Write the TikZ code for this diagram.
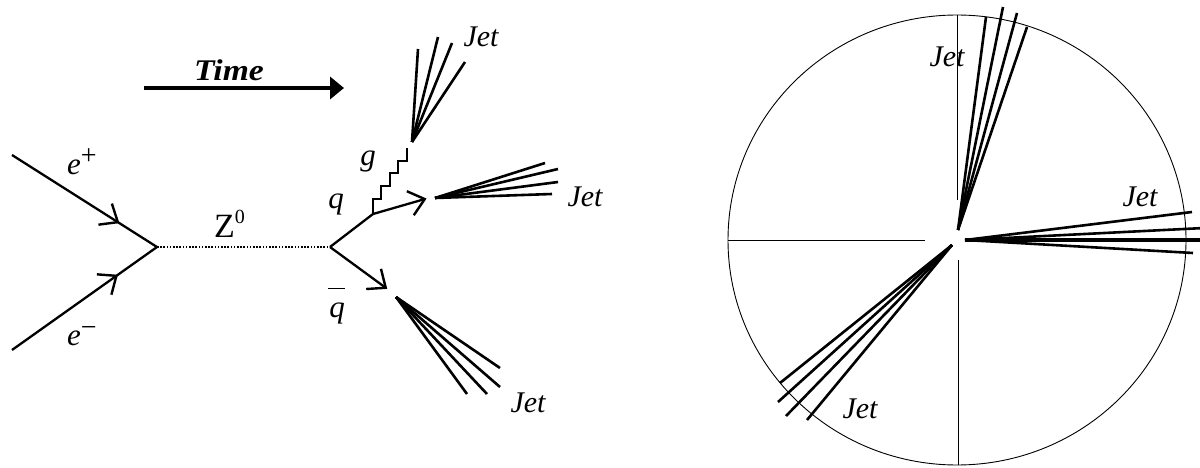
\documentclass[tikz,border=0pt]{standalone}
\usepackage{fontspec}
\setmainfont{Liberation Serif}
\usetikzlibrary{arrows.meta,decorations.markings}
\begin{document}
\begin{tikzpicture}[x=1pt,y=-1pt,
  fermion/.style={line width=2.3pt},
  chev/.style={postaction={decorate},decoration={markings,
     mark=at position #1 with {\draw[line width=2.4pt,line join=miter,line cap=butt] (-15pt,12.5pt) -- (0pt,0pt) -- (-15pt,-12.5pt);}}},
  jetline/.style={line width=2.6pt},
  thinline/.style={line width=0.9pt},
  lbl/.style={inner sep=0pt,font=\fontsize{31}{31}\selectfont\itshape},
  jetlbl/.style={inner sep=0pt,anchor=base,font=\fontsize{30}{30}\selectfont\itshape}]
\useasboundingbox (0,0) rectangle (1200,468);

% ---------- left: Feynman diagram ----------
\coordinate (ep) at (12,155);
\coordinate (em) at (12,350);
\coordinate (v1) at (157,247);
\coordinate (v2) at (330,247);
\coordinate (qv) at (373,214);
\coordinate (qe) at (425,199);
\coordinate (qb) at (386,288);

\draw[fermion,chev=0.73] (ep) -- (v1);
\draw[fermion,chev=0.72] (em) -- (v1);
\draw[line width=2pt,dash pattern=on 1.6pt off 1.6pt] (v1) -- (v2);
\draw[fermion] (v2) -- (qv);
\draw[fermion,chev=0.995] (qv) -- (qe);
\draw[fermion,chev=0.995] (v2) -- (qb);
% gluon
\draw[line width=2pt] (qv) -- ++(0,-15) -- ++(8,0) -- ++(0,-13) -- ++(9,0)
   -- ++(0,-13) -- ++(8,0) -- ++(0,-12) -- ++(9,0) -- ++(0,-13);

% labels
\node[lbl,anchor=base west] (lep) at (67,175) {e\raisebox{10pt}{\fontsize{28}{28}\selectfont\upshape +}};
\node[lbl,anchor=base west] (lem) at (67,345) {e\raisebox{9pt}{\fontsize{28}{28}\selectfont\upshape −}};
\node[inner sep=0pt,anchor=base west] (lz) at (214,237) {\fontsize{34}{34}\selectfont Z\raisebox{14pt}{\fontsize{20}{20}\selectfont 0}};
\node[lbl,anchor=base] (lq) at (336,208) {q};
\node[lbl,anchor=base] (lg) at (368,165) {g};
\node[lbl,anchor=base] (lqb) at (337,317) {\rlap{\kern-1pt\rule[28pt]{17pt}{1.4pt}}q};

% time arrow
\coordinate (t0) at (144,88);
\coordinate (t1) at (344,88);
\draw[line width=3.5pt,-{Triangle[length=14pt,width=22pt]}] (t0) -- (t1);
\node[inner sep=0pt,anchor=base,font=\fontsize{30}{30}\selectfont\bfseries\itshape] (ltime) at (229,81) {\scalebox{1.12}[1]{Time}};

% jets (left)
\coordinate (gj) at (412,142);
\coordinate (gj1) at (418,49);
\coordinate (gj2) at (438,37);
\coordinate (gj3) at (452,43);
\coordinate (gj4) at (465,62);
\foreach \i in {1,...,4} \draw[jetline] (gj) -- (gj\i);
\coordinate (qj) at (435,198);
\coordinate (qj1) at (545,163);
\coordinate (qj2) at (558,169);
\coordinate (qj3) at (558,182);
\coordinate (qj4) at (552,194);
\foreach \i in {1,...,4} \draw[jetline] (qj) -- (qj\i);
\coordinate (bj) at (396,297);
\coordinate (bj1) at (500,368);
\coordinate (bj2) at (500,387);
\coordinate (bj3) at (487,394);
\coordinate (bj4) at (467,394);
\foreach \i in {1,...,4} \draw[jetline] (bj) -- (bj\i);

\node[jetlbl] (j1) at (481,47) {Jet};
\node[jetlbl] (j2) at (585,207) {Jet};
\node[jetlbl] (j3) at (528,412) {Jet};

% ---------- right: end view ----------
\coordinate (c) at (957,240);
\draw[thinline] (c) ellipse [x radius=229, y radius=225];
\coordinate (ct) at (957,15);
\coordinate (cu) at (957,200);
\coordinate (cl) at (728,240);
\coordinate (cll) at (925,240);
\coordinate (cd) at (958,260);
\coordinate (cb) at (958,465);
\draw[thinline] (ct) -- (cu);
\draw[thinline] (cl) -- (cll);
\draw[thinline] (cd) -- (cb);

\coordinate (rt) at (958,230);
\coordinate (rt1) at (986,17);
\coordinate (rt2) at (1003,7);
\coordinate (rt3) at (1017,13);
\coordinate (rt4) at (1027,27);
\foreach \i in {1,...,4} \draw[jetline] (rt) -- (rt\i);
\coordinate (rr) at (965,240);
\coordinate (rr1) at (1192,212);
\coordinate (rr2) at (1204,228);
\coordinate (rr3) at (1204,240);
\coordinate (rr4) at (1193,253);
\foreach \i in {1,2,4} \draw[jetline] (rr) -- (rr\i);
\draw[jetline,line width=3.4pt] (rr) -- (rr3);
\coordinate (rb) at (952,245);
\coordinate (rb1) at (780,383);
\coordinate (rb2) at (778,402);
\coordinate (rb3) at (786,416);
\coordinate (rb4) at (807,420);
\foreach \i in {1,...,4} \draw[jetline] (rb) -- (rb\i);

\node[jetlbl] (k1) at (947,67) {Jet};
\node[jetlbl] (k2) at (1140,207) {Jet};
\node[jetlbl] (k3) at (860,418) {Jet};
\end{tikzpicture}
\end{document}
